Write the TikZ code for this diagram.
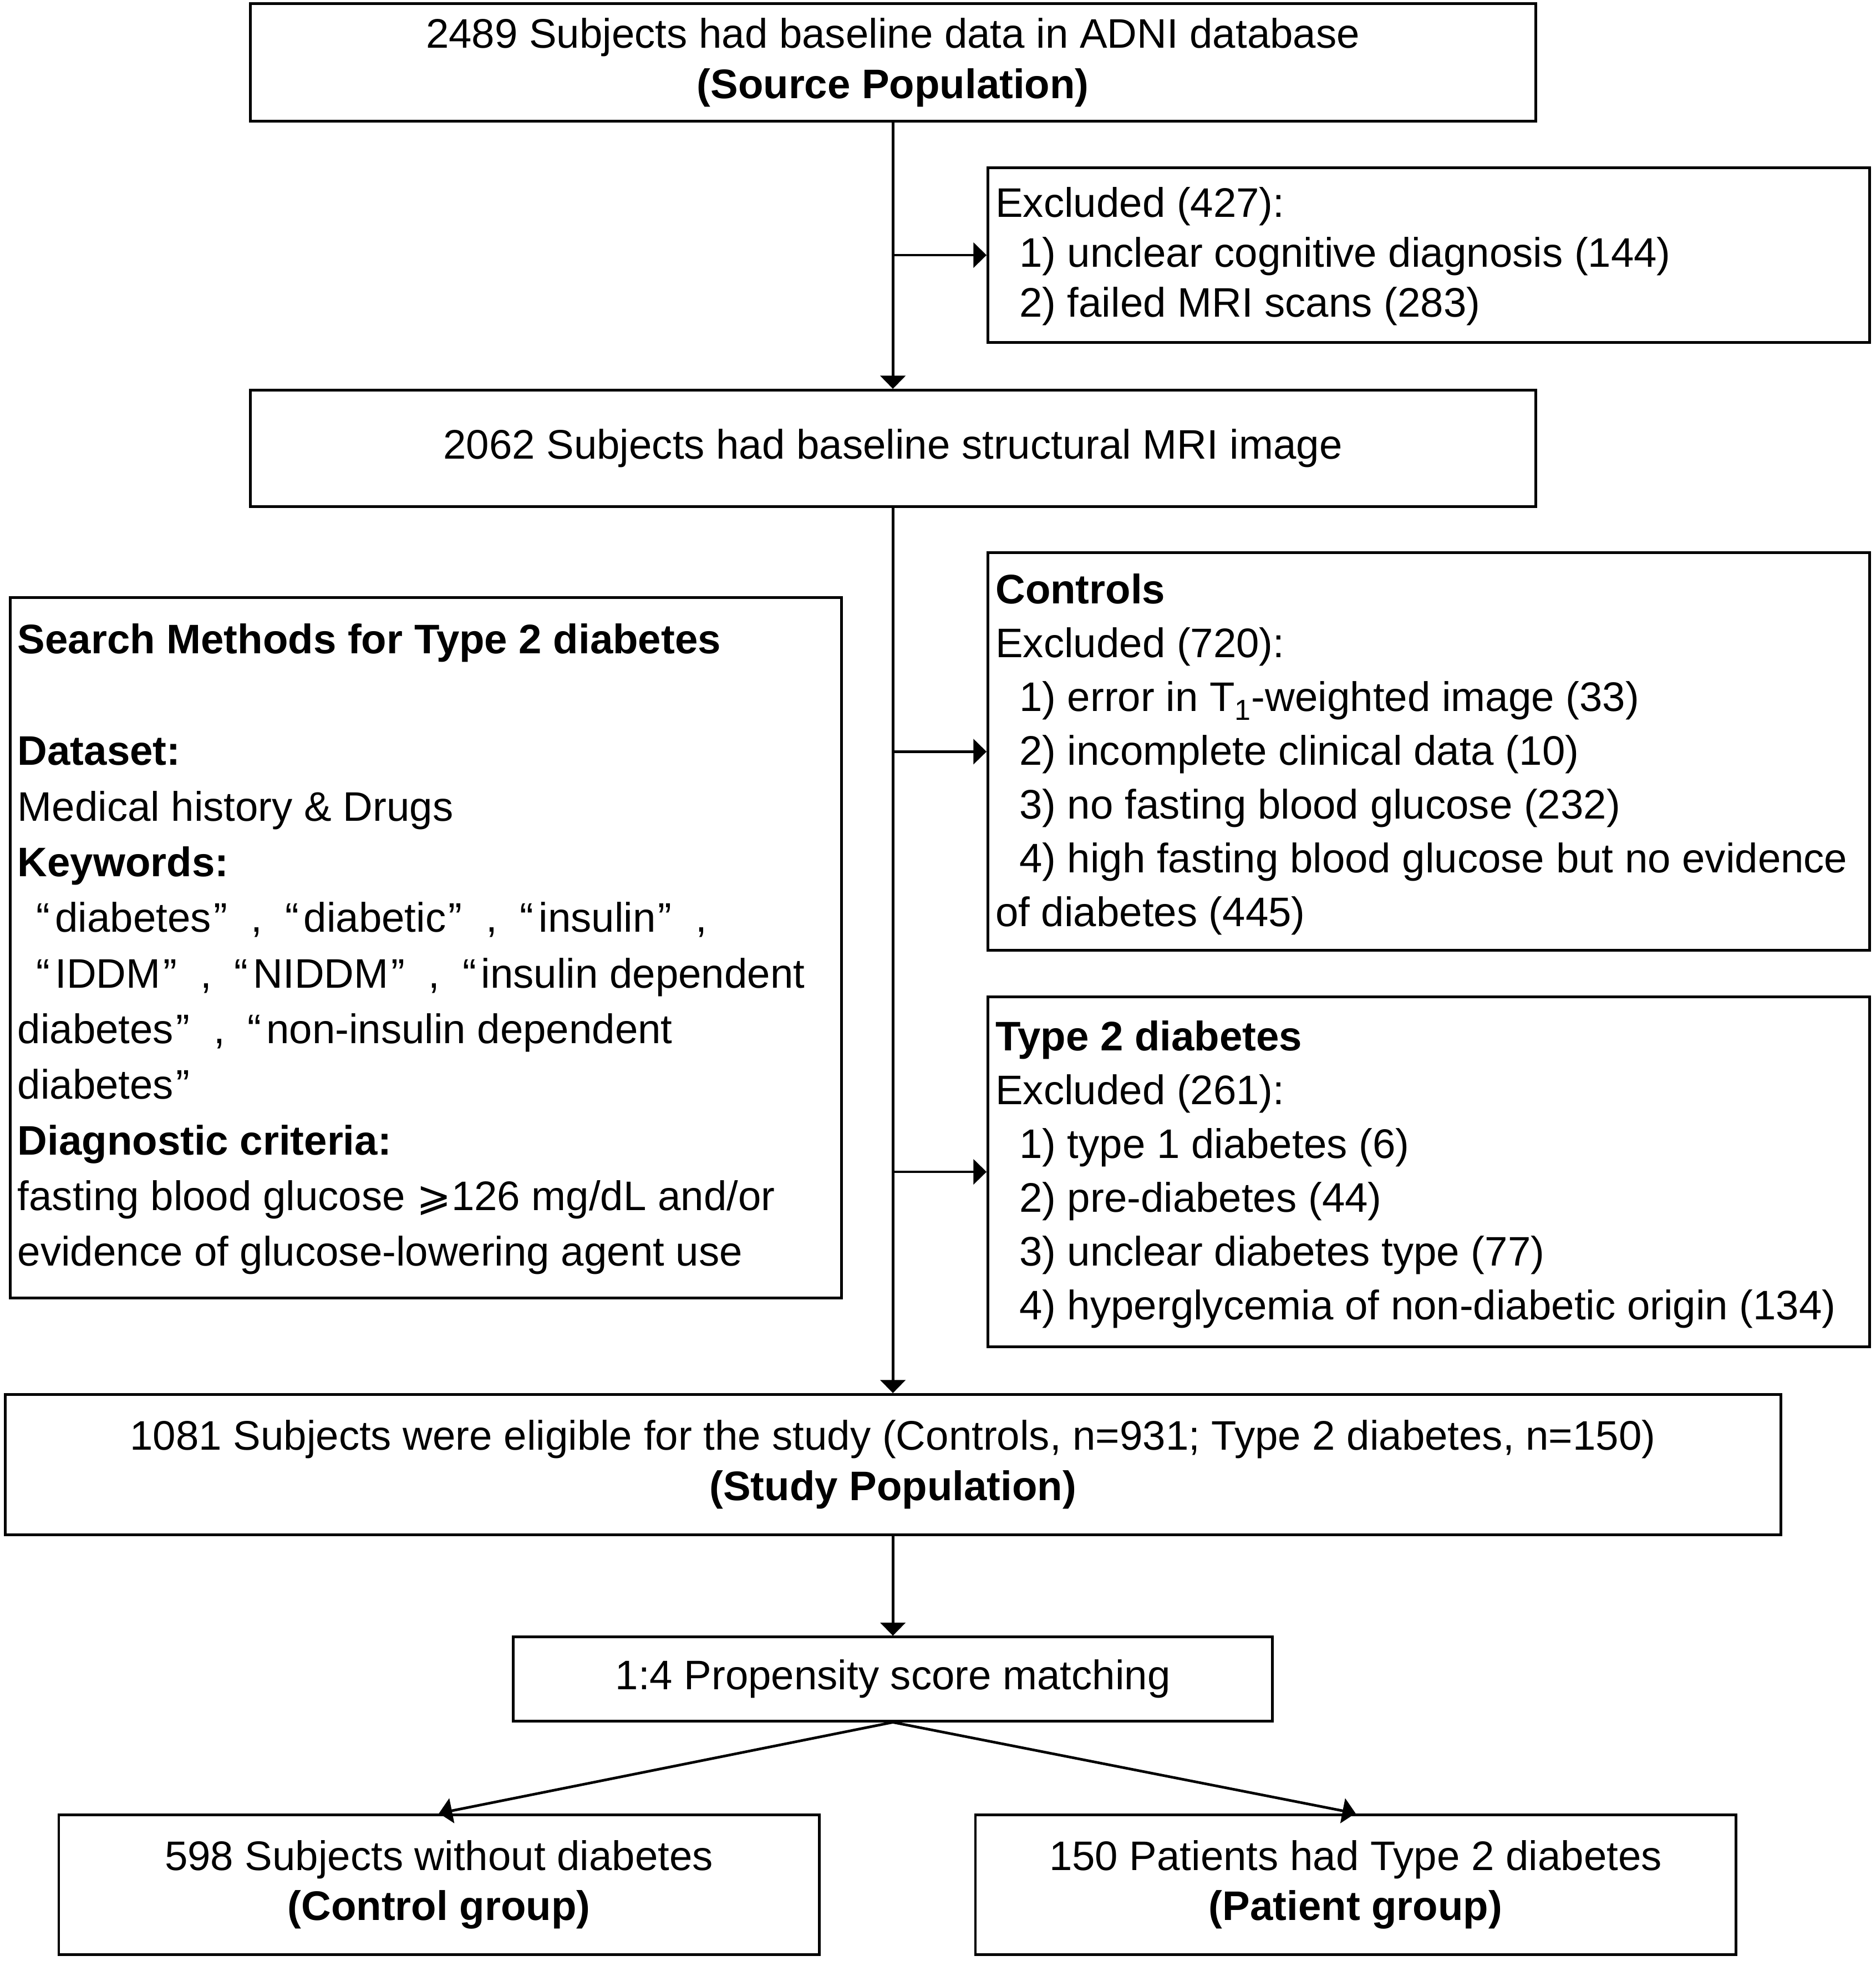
\documentclass[tikz,border=0pt]{standalone}
\usepackage{fontspec}
\setmainfont{Liberation Sans}
\newfontfamily\dejavu{DejaVu Sans}
\usetikzlibrary{arrows.meta}
\newcommand{\qL}{“\hspace{4pt}}
\newcommand{\qS}{\hspace*{15pt}“\hspace{4pt}}
\newcommand{\qR}{\hspace{2pt}”}
\newcommand{\qC}{\hspace{19pt},\hspace{18pt}}
\begin{document}
\begin{tikzpicture}[x=1pt,y=-1pt,
  box/.style={draw, line width=2.2pt, inner sep=0pt, align=center,
    font=\fontsize{33}{40}\selectfont},
  txt/.style={inner sep=0pt, align=left, anchor=west},
  arr/.style={line width=2.1pt, -{Triangle[length=10.5pt,width=20pt]}}]
\useasboundingbox[fill=white] (0,0) rectangle (1500,1568);
\lineskiplimit=-100pt
% boxes
\node[box, minimum width=1028pt, minimum height=94pt] (src) at (714,50)
  {2489 Subjects had baseline data in ADNI database\\\textbf{(Source Population)}};
\node[box, minimum width=705pt, minimum height=140pt] (exc1) at (1142.5,204) {};
\node[txt, font=\fontsize{33}{40}\selectfont] (exc1t) at ([xshift=7pt,yshift=-1pt]exc1.west)
  {Excluded (427):\\
   \hspace*{19pt}1) unclear cognitive diagnosis (144)\\
   \hspace*{19pt}2) failed MRI scans (283)};
\node[box, minimum width=1028pt, minimum height=93pt] (mri) at (714,358.5)
  {2062 Subjects had baseline structural MRI image};
\node[box, minimum width=665pt, minimum height=560pt] (search) at (340.5,758) {};
\node[txt, font=\fontsize{33}{44.5}\selectfont] (searcht) at ([xshift=7pt,yshift=-1pt]search.west)
  {\textbf{Search Methods for Type 2 diabetes}\\
   \mbox{}\\
   \textbf{Dataset:}\\
   Medical history \& Drugs\\
   \textbf{Keywords:}\\
   \qS diabetes\qR\qC\qL diabetic\qR\qC\qL insulin\qR\qC\\
   \qS IDDM\qR\qC\qL NIDDM\qR\qC\qL insulin dependent\\
   diabetes\qR\qC\qL non-insulin dependent\\
   diabetes\qR\\
   \textbf{Diagnostic criteria:}\\
   fasting blood glucose {\dejavu ⩾}126 mg/dL and/or\\
   evidence of glucose-lowering agent use};
\node[box, minimum width=705pt, minimum height=318pt] (ctrl) at (1142.5,601) {};
\node[txt, font=\fontsize{33}{43}\selectfont] (ctrlt) at ([xshift=7pt,yshift=-2pt]ctrl.west)
  {\textbf{Controls}\\
   Excluded (720):\\
   \hspace*{19pt}1) error in T\textsubscript{1}-weighted image (33)\\
   \hspace*{19pt}2) incomplete clinical data (10)\\
   \hspace*{19pt}3) no fasting blood glucose (232)\\
   \hspace*{19pt}4) high fasting blood glucose but no evidence\\
   of diabetes (445)};
\node[box, minimum width=705pt, minimum height=280pt] (t2d) at (1142.5,937) {};
\node[txt, font=\fontsize{33}{43}\selectfont] (t2dt) at ([xshift=7pt,yshift=-2pt]t2d.west)
  {\textbf{Type 2 diabetes}\\
   Excluded (261):\\
   \hspace*{19pt}1) type 1 diabetes (6)\\
   \hspace*{19pt}2) pre-diabetes (44)\\
   \hspace*{19pt}3) unclear diabetes type (77)\\
   \hspace*{19pt}4) hyperglycemia of non-diabetic origin (134)};
\node[box, minimum width=1420pt, minimum height=112pt] (study) at (714,1171)
  {1081 Subjects were eligible for the study (Controls, n=931; Type 2 diabetes, n=150)\\
   \textbf{(Study Population)}};
\node[box, minimum width=607pt, minimum height=67pt] (psm) at (714,1342.5)
  {1:4 Propensity score matching};
\node[box, minimum width=608pt, minimum height=112pt] (cg) at (351,1507)
  {598 Subjects without diabetes\\\textbf{(Control group)}};
\node[box, minimum width=608pt, minimum height=112pt] (pg) at (1084,1507)
  {150 Patients had Type 2 diabetes\\\textbf{(Patient group)}};
% connectors
\draw[arr] (src.south) -- (mri.north);
\draw[arr] (exc1.west -| src.south) -- (exc1.west);
\draw[arr] (mri.south) -- (study.north);
\draw[arr] (ctrl.west -| mri.south) -- (ctrl.west);
\draw[arr] (t2d.west -| mri.south) -- (t2d.west);
\draw[arr] (study.south) -- (psm.north);
\draw[arr] (psm.south) -- (cg.north);
\draw[arr] (psm.south) -- (pg.north);
\end{tikzpicture}
\end{document}
